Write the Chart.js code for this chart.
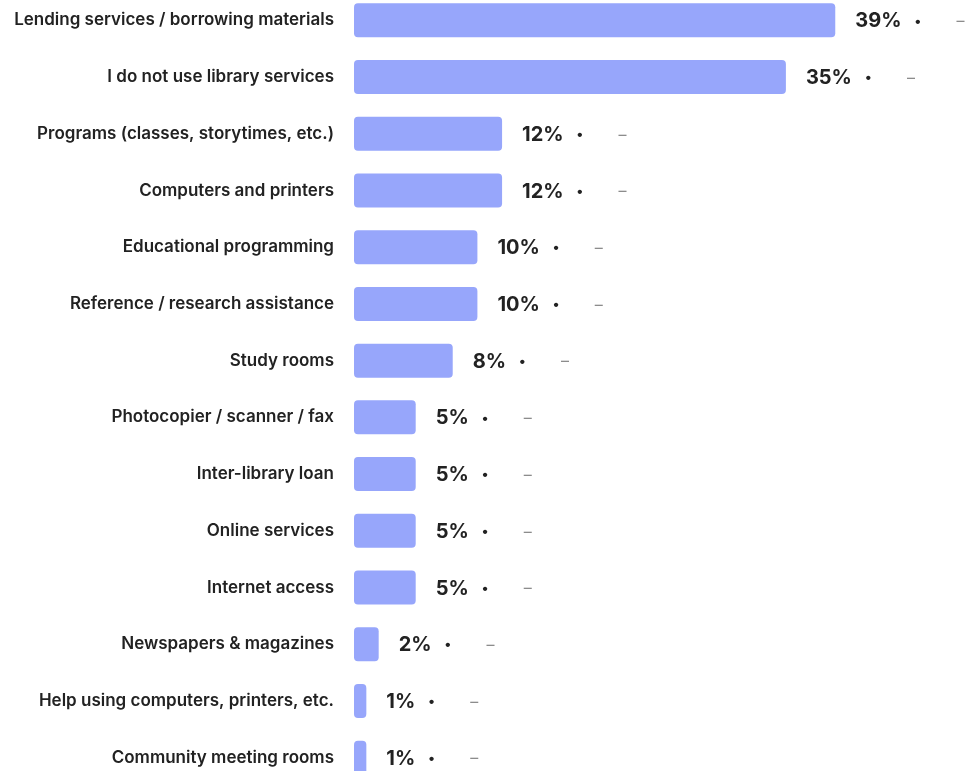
<!DOCTYPE html>
<html>
<head>
<meta charset="utf-8">
<script src="https://cdn.jsdelivr.net/npm/chart.js@4"></script>
<style>
  html, body { margin: 0; padding: 0; background: #fff; overflow: hidden; }
  #usageChart { position: absolute; left: 0; top: -8px; }
</style>
</head>
<body>
<canvas id="usageChart" width="974" height="794"></canvas>
<script>
// library services used, share of respondents (%)
const services = [
    "Lending services / borrowing materials",
    "I do not use library services",
    "Programs (classes, storytimes, etc.)",
    "Computers and printers",
    "Educational programming",
    "Reference / research assistance",
    "Study rooms",
    "Photocopier / scanner / fax",
    "Inter-library loan",
    "Online services",
    "Internet access",
    "Newspapers & magazines",
    "Help using computers, printers, etc.",
    "Community meeting rooms"
];
const shares = [39, 35, 12, 12, 10, 10, 8, 5, 5, 5, 5, 2, 1, 1];

const barColor = "#97a6fb";
const textColor = "#222222";

// value, bullet and dash drawn after each bar
const valueLabels = {
    id: "valueLabels",
    afterDatasetsDraw(chart) {
        const ctx = chart.ctx;
        const meta = chart.getDatasetMeta(0);
        ctx.save();
        ctx.textBaseline = "middle";
        meta.data.forEach(function(bar, i) {
            const text = shares[i] + "%";
            let x = bar.x + 20;
            const y = bar.y + 1;
            ctx.font = "700 20px Inter";
            ctx.fillStyle = textColor;
            ctx.textAlign = "left";
            ctx.fillText(text, x, y);
            x += ctx.measureText(text).width + 13;
            ctx.font = "700 14px Inter";
            ctx.fillText("•", x, y);
            ctx.font = "400 16px Inter";
            ctx.fillStyle = "#8c8c8c";
            ctx.fillText("–", x + 42, y);
        });
        ctx.restore();
    }
};

new Chart(document.getElementById("usageChart"), {
    type: "bar",
    data: {
        labels: services,
        datasets: [{
            data: shares,
            backgroundColor: barColor,
            borderRadius: 4,
            borderSkipped: false,
            barPercentage: 0.6,
            categoryPercentage: 1
        }]
    },
    options: {
        indexAxis: "y",
        responsive: false,
        animation: false,
        layout: { padding: { left: 0, right: 3, top: 0, bottom: 0 } },
        plugins: {
            legend: { display: false },
            tooltip: { enabled: false }
        },
        scales: {
            x: {
                display: false,
                min: 0,
                max: 50
            },
            y: {
                grid: { display: false, drawTicks: false },
                border: { display: false },
                afterFit: function(scale) {
                    scale.width = 354;
                    scale.paddingTop = 0;
                    scale.paddingBottom = 0;
                },
                ticks: {
                    padding: 20,
                    color: textColor,
                    font: { family: "Inter", size: 17, weight: "600" }
                }
            }
        }
    },
    plugins: [valueLabels]
});
</script>
</body>
</html>
